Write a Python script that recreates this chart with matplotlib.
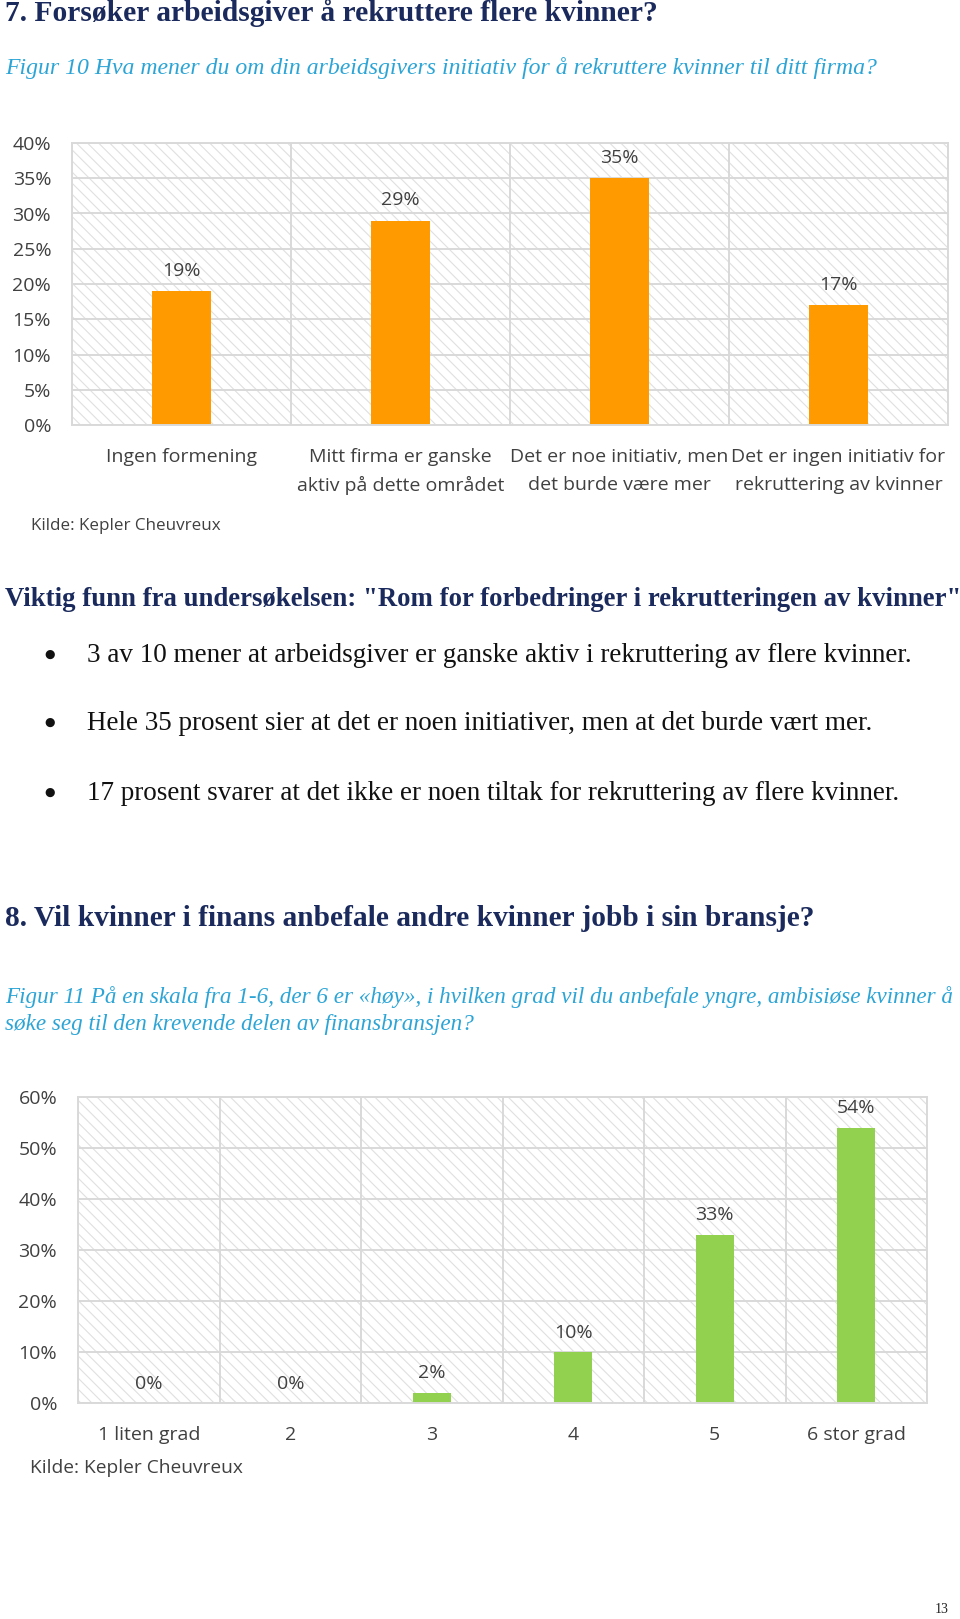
import matplotlib
matplotlib.use("Agg")
import matplotlib.pyplot as plt
from matplotlib.patches import Rectangle
from matplotlib.ticker import FuncFormatter
import numpy as np

# --- data ---
cats1 = ["Ingen formening",
         "Mitt firma er ganske\naktiv på dette området",
         "Det er noe initiativ, men\ndet burde være mer",
         "Det er ingen initiativ for\nrekruttering av kvinner"]
vals1 = [19, 29, 35, 17]
yticks1 = [0, 5, 10, 15, 20, 25, 30, 35, 40]

cats2 = ["1 liten grad", "2", "3", "4", "5", "6 stor grad"]
vals2 = [0, 0, 2, 10, 33, 54]
yticks2 = [0, 10, 20, 30, 40, 50, 60]

title1 = "7. Forsøker arbeidsgiver å rekruttere flere kvinner?"
sub1 = "Figur 10 Hva mener du om din arbeidsgivers initiativ for å rekruttere kvinner til ditt firma?"
key_head = 'Viktig funn fra undersøkelsen: "Rom for forbedringer i rekrutteringen av kvinner"'
bullets = ["3 av 10 mener at arbeidsgiver er ganske aktiv i rekruttering av flere kvinner.",
           "Hele 35 prosent sier at det er noen initiativer, men at det burde vært mer.",
           "17 prosent svarer at det ikke er noen tiltak for rekruttering av flere kvinner."]
title2 = "8. Vil kvinner i finans anbefale andre kvinner jobb i sin bransje?"
sub2 = ["Figur 11 På en skala fra 1-6, der 6 er «høy», i hvilken grad vil du anbefale yngre, ambisiøse kvinner å",
        "søke seg til den krevende delen av finansbransjen?"]
source = "Kilde: Kepler Cheuvreux"

NAVY = "#1b2a5c"
CYAN = "#2ca5d6"
ORANGE = "#ff9a00"
GREEN = "#92d050"
GRID = "#d9d9d9"
HATCH = "#e0e0e0"
LABEL = "#404040"

W, H = 960, 1619
plt.rcParams['font.family'] = ['Open Sans', 'DejaVu Sans']
plt.rcParams['hatch.linewidth'] = 0.8

fig = plt.figure(figsize=(W / 100, H / 100), dpi=100)
renderer = fig.canvas.get_renderer()


def ftext(x, y, s, **kw):
    return fig.text(x / W, 1 - y / H, s, **kw)


def fit(t, width):
    # scale the font so the text spans the width seen in the page
    w = t.get_window_extent(renderer).width
    t.set_fontsize(t.get_fontsize() * width / w)
    return t.get_fontsize()


def bar_chart(rect, cats, vals, yticks, color, pad_top):
    left, top, right, bottom = rect
    ax = fig.add_axes([left / W, 1 - bottom / H, (right - left) / W, (bottom - top) / H])
    ax.add_patch(Rectangle((0, 0), 1, 1, transform=ax.transAxes, facecolor="white",
                           edgecolor=HATCH, hatch="\\\\\\", lw=0, zorder=0))
    x = np.arange(len(cats))
    bars = ax.bar(x, vals, width=0.27, color=color, zorder=2)
    ax.bar_label(bars, labels=[f"{v}%" for v in vals], padding=pad_top,
                 fontsize=14, color=LABEL)
    ax.set_xlim(-0.5, len(cats) - 0.5)
    ax.set_ylim(yticks[0], yticks[-1])
    ax.set_yticks(yticks)
    ax.yaxis.set_major_formatter(FuncFormatter(lambda v, p: f"{v:.0f}%"))
    ax.set_xticks(x)
    ax.set_xticklabels(cats, linespacing=1.7)
    ax.set_xticks(np.arange(len(cats) + 1) - 0.5, minor=True)
    ax.set_axisbelow(True)
    ax.grid(axis="y", which="major", color=GRID, lw=1.4)
    ax.grid(axis="x", which="minor", color=GRID, lw=1.4)
    ax.tick_params(which="both", length=0, labelsize=14, labelcolor=LABEL)
    ax.tick_params(axis="y", pad=15)
    ax.tick_params(axis="x", pad=16.5)
    for sp in ax.spines.values():
        sp.set_color(GRID)
        sp.set_linewidth(1.4)
    return ax


# --- headings and text ---
t = ftext(5, 21, title1, family="Liberation Serif", weight="bold", color=NAVY,
          fontsize=18, va="baseline")
fit(t, 652)
t = ftext(5, 74, sub1, family="Liberation Serif", style="italic", color=CYAN,
          fontsize=15, va="baseline")
fit(t, 872)

bar_chart((72, 143, 948, 425), cats1, vals1, yticks1, ORANGE, 8)
t = ftext(31, 526, source, fontsize=12, color=LABEL, va="center")
fit(t, 189)

t = ftext(5, 606, key_head, family="Liberation Serif", weight="bold", color=NAVY,
          fontsize=18, va="baseline")
fit(t, 951)

b_size = None
for i, (b, yb) in enumerate(zip(bullets, [662, 730, 800])):
    t = ftext(87, yb, b, family="Liberation Serif", color="#111111", fontsize=15,
              va="baseline")
    if b_size is None:
        b_size = fit(t, 830)
    else:
        t.set_fontsize(b_size)
    ftext(50, yb - 8, "\u25cf", family="DejaVu Sans", color="#111111",
          fontsize=b_size * 0.45, va="center", ha="center")

t = ftext(5, 926, title2, family="Liberation Serif", weight="bold", color=NAVY,
          fontsize=18, va="baseline")
fit(t, 805)
t = ftext(5, 1003, sub2[0], family="Liberation Serif", style="italic", color=CYAN,
          fontsize=15, va="baseline")
s_size = fit(t, 950)
ftext(5, 1030, sub2[1], family="Liberation Serif", style="italic", color=CYAN,
      fontsize=s_size, va="baseline")

bar_chart((78, 1097, 927, 1403), cats2, vals2, yticks2, GREEN, 7.5)
t = ftext(30, 1468, source, fontsize=14, color=LABEL, va="center")
fit(t, 213)

ftext(949, 1613, "13", family="Liberation Serif", fontsize=10, color="#222222",
      va="baseline", ha="right")

fig.savefig("out.png", dpi=100)
